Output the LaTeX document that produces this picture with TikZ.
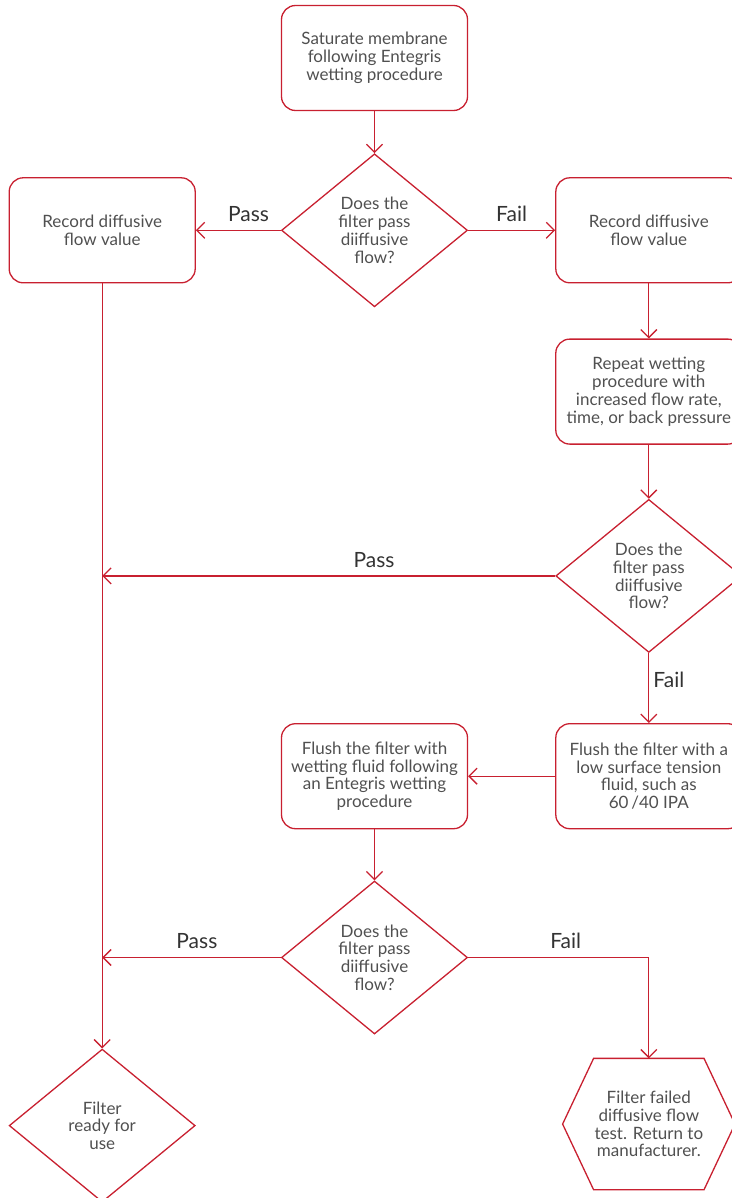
\documentclass[tikz,border=0pt]{standalone}
\usepackage{fontspec}
\setmainfont{Lato}
\usetikzlibrary{arrows.meta, positioning, shapes.geometric}
\definecolor{entred}{RGB}{200,32,48}
\definecolor{txtgray}{RGB}{80,80,80}

\begin{document}
\begin{tikzpicture}[x=1pt, y=1pt, node distance=40pt,
    every node/.style={font=\fontsize{17}{17.8}\selectfont, text=txtgray, align=center},
    stepbox/.style={draw=entred, line width=1.3pt, rounded corners=14pt,
                    minimum width=186pt, minimum height=105pt, inner sep=0pt},
    query/.style={diamond, draw=entred, line width=1.3pt,
                  minimum width=186pt, minimum height=153pt, inner sep=0pt},
    flowline/.style={draw=entred, line width=1.3pt, -{Straight Barb[length=8pt, width=16pt]}},
    answer/.style={font=\fontsize{21}{23}\selectfont, text=black!80, inner sep=8pt}]

    \useasboundingbox (0,0) rectangle (731,-1198);

    % Main column
    \node (start) [stepbox] at (374.5,-58) {Saturate membrane\\following Entegris\\wetting procedure};
    \node (dec1) [query, below=42pt of start] {Does the\\filter pass\\diiffusive\\flow?};
    \node (recL) [stepbox, left=85pt of dec1] {Record diffusive\\flow value};
    \node (recR) [stepbox, right=87pt of dec1] {Record diffusive\\flow value};
    \node (repeat) [stepbox, below=55pt of recR] {Repeat wetting\\procedure with\\increased flow rate,\\time, or back pressure};
    \node (dec2) [query, below=54pt of repeat] {Does the\\filter pass\\diiffusive\\flow?};
    \node (flushA) [stepbox, below=70pt of dec2] {Flush the filter with a\\low surface tension\\fluid, such as\\60\,/40 IPA};
    \node (flushB) [stepbox, left=87pt of flushA] {Flush the filter with\\wetting fluid following\\an Entegris wetting\\procedure};
    \node (dec3) [query, below=51pt of flushB] {Does the\\filter pass\\diiffusive\\flow?};

    % End states
    \node (failed) [minimum width=172pt, minimum height=131pt, inner sep=0pt,
                    below=229pt of flushA] {Filter failed\\diffusive flow\\test. Return to\\manufacturer.};
    \draw[entred, line width=1.3pt] (failed.west) -- ([xshift=31pt]failed.north west)
        -- ([xshift=-31pt]failed.north east) -- (failed.east)
        -- ([xshift=-31pt]failed.south east) -- ([xshift=31pt]failed.south west) -- cycle;
    \node (ready) [query, below=765pt of recL] {Filter\\ready for\\use};

    % Arrows
    \draw[flowline] (start) -- (dec1);
    \draw[flowline] (dec1) -- (recL) node[pos=0.38, above, answer] {Pass};
    \draw[flowline] (dec1) -- (recR) node[midway, above, answer] {Fail};
    \draw[flowline] (recR) -- (repeat);
    \draw[flowline] (repeat) -- (dec2);
    \draw[flowline] (dec2.west) -- (dec2.west -| recL.south) node[pos=0.4, above, answer] {Pass};
    \draw[flowline] (dec2) -- (flushA) node[pos=0.38, right, answer, inner sep=4pt] {Fail};
    \draw[flowline] (flushA) -- (flushB);
    \draw[flowline] (flushB) -- (dec3);
    \draw[flowline] (dec3.west) -- (dec3.west -| recL.south) node[pos=0.47, above, answer] {Pass};
    \draw[flowline] (dec3.east) -| node[pos=0.27, above, answer] {Fail} (failed.north);
    \draw[flowline] (recL) -- (ready);

\end{tikzpicture}
\end{document}
